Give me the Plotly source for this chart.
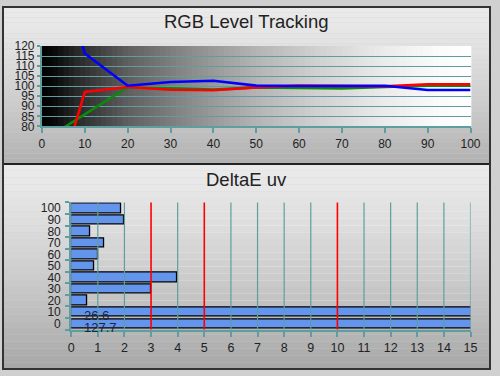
import plotly.graph_objects as go

# ---------------- data ----------------
levels = [0, 10, 20, 30, 40, 50, 60, 70, 80, 90, 100]
red_vals = [26, 97.1, 99.6, 98.2, 98.0, 99.4, 100.3, 100.2, 99.9, 101.0, 101.0]
green_vals = [72.5, 86.0, 99.5, 99.0, 98.3, 99.4, 99.0, 98.9, 99.6, 100.3, 100.3]
blue_vals = [190, 116.3, 100.2, 102.1, 102.7, 100.3, 100.1, 100.1, 100.2, 98.1, 98.1]

de_levels = [0, 10, 20, 30, 40, 50, 60, 70, 80, 90, 100]
de_values = [127.7, 26.6, 0.6, 3.0, 3.97, 0.86, 1.0, 1.25, 0.72, 2.0, 1.88]
thresholds = [3, 5, 10]

top_xticks = list(range(0, 101, 10))
top_yticks = list(range(80, 121, 5))
bot_xticks = list(range(0, 16))
bot_yticks = list(range(0, 101, 10))

TEAL = "#5f9ea0"
FONT = "Liberation Sans, Arial, sans-serif"
TXT = "#222222"

fig = go.Figure()

# RGB lines
for vals, col in [(green_vals, "#0a8a0a"), (red_vals, "#ff0000"), (blue_vals, "#0000ff")]:
    fig.add_trace(go.Scatter(x=levels, y=vals, mode="lines",
                             line=dict(color=col, width=2.6),
                             xaxis="x", yaxis="y", showlegend=False, hoverinfo="skip"))

# DeltaE bars
fig.add_trace(go.Bar(x=de_values, y=de_levels, orientation="h", width=8.2,
                     marker=dict(color="#6495ed", line=dict(color="black", width=1.3)),
                     xaxis="x2", yaxis="y2", showlegend=False, hoverinfo="skip"))

shapes = []
def hex_gray(v):
    v = max(0, min(255, int(round(v))))
    return "#%02x%02x%02x" % (v, v, v)

split_px, H = 163, 376
nb = 30
for i in range(nb):
    y0 = split_px * i / nb
    y1 = split_px * (i + 1) / nb
    g = 234 - (234 - 178) * (i / (nb - 1)) ** 1.3
    shapes.append(dict(type="rect", xref="paper", yref="paper", x0=0, x1=1,
                       y0=1 - y1 / H, y1=1 - y0 / H, fillcolor=hex_gray(g),
                       line=dict(width=0), layer="below"))
for i in range(nb):
    y0 = split_px + (H - split_px) * i / nb
    y1 = split_px + (H - split_px) * (i + 1) / nb
    g = 234 - (234 - 168) * (i / (nb - 1)) ** 1.3
    shapes.append(dict(type="rect", xref="paper", yref="paper", x0=0, x1=1,
                       y0=1 - y1 / H, y1=1 - y0 / H, fillcolor=hex_gray(g),
                       line=dict(width=0), layer="below"))

# top plot-area horizontal gradient (black -> white)
stops = [(0.0, 0), (0.03, 10), (0.08, 40), (0.2, 95), (0.35, 140), (0.5, 180),
         (0.65, 210), (0.8, 235), (0.92, 250), (1.0, 255)]
ng = 80
for i in range(ng):
    f0 = i / ng
    f1 = (i + 1) / ng
    fm = (f0 + f1) / 2
    for (a, va), (b, vb) in zip(stops[:-1], stops[1:]):
        if a <= fm <= b:
            v = va + (vb - va) * (fm - a) / (b - a)
            break
    shapes.append(dict(type="rect", xref="x domain", yref="y domain", x0=f0, x1=f1 + 0.002,
                       y0=0, y1=1, fillcolor=hex_gray(v), line=dict(width=0), layer="below"))

# bottom grid lines above bars
for t in bot_xticks[1:]:
    if t in thresholds:
        continue
    shapes.append(dict(type="line", xref="x2", yref="y2 domain", x0=t, x1=t, y0=0, y1=1,
                       line=dict(color=TEAL, width=1.2), layer="above"))
for t in thresholds:
    shapes.append(dict(type="line", xref="x2", yref="y2 domain", x0=t, x1=t, y0=0, y1=1,
                       line=dict(color="#ff0000", width=1.6), layer="above"))

# separator and border
shapes.append(dict(type="line", xref="paper", yref="paper", x0=0, x1=1,
                   y0=1 - split_px / H, y1=1 - split_px / H,
                   line=dict(color="#222222", width=2), layer="above"))
shapes.append(dict(type="rect", xref="paper", yref="paper", x0=0, x1=1, y0=0, y1=1,
                   line=dict(color="#333333", width=2), layer="above"))

annotations = [
    dict(text="RGB Level Tracking", xref="paper", yref="paper", x=0.5, y=1 - 15 / H,
         showarrow=False, font=dict(family=FONT, size=18.5, color=TXT), xanchor="center", yanchor="middle"),
    dict(text="DeltaE uv", xref="paper", yref="paper", x=0.5, y=1 - 179 / H,
         showarrow=False, font=dict(family=FONT, size=18.5, color=TXT), xanchor="center", yanchor="middle"),
]
XMAX = 15
for lv, v in zip(de_levels, de_values):
    if v > XMAX:
        annotations.append(dict(text=str(v), xref="x2", yref="y2", x=0.4, y=lv - 3,
                                showarrow=False, xanchor="left", yanchor="middle",
                                font=dict(family=FONT, size=13, color="#1c2540")))

fig.update_layout(
    width=500, height=376, autosize=False, margin=dict(l=0, r=0, t=0, b=0),
    paper_bgcolor="#d0d0d0", plot_bgcolor="white",
    shapes=shapes, annotations=annotations, bargap=0,
    xaxis=dict(domain=[40 / 500, 480 / 500], range=[0, 100], tickvals=top_xticks,
               showgrid=False, zeroline=False, showline=True, linecolor=TEAL, linewidth=2,
               ticks="outside", ticklen=5, tickwidth=2, tickcolor=TEAL,
               tickfont=dict(family=FONT, size=12, color=TXT), anchor="y"),
    yaxis=dict(domain=[1 - 124 / H, 1 - 40.5 / H], range=[80, 120], tickvals=top_yticks,
               showgrid=True, gridcolor=TEAL, gridwidth=1.2, zeroline=False,
               showline=True, linecolor=TEAL, linewidth=2,
               ticks="outside", ticklen=3, tickwidth=1.5, tickcolor=TEAL,
               tickfont=dict(family=FONT, size=12, color=TXT), anchor="x"),
    xaxis2=dict(domain=[70 / 500, 480 / 500], range=[0, XMAX], tickvals=bot_xticks,
                showgrid=False, zeroline=False, showline=True, linecolor=TEAL, linewidth=2,
                ticks="outside", ticklen=5, tickwidth=2, tickcolor=TEAL,
                tickfont=dict(family=FONT, size=12.5, color=TXT), anchor="y2"),
    yaxis2=dict(domain=[1 - 335 / H, 1 - 203 / H], range=[-5, 105], tickvals=bot_yticks,
                showgrid=False, zeroline=False, showline=True, linecolor=TEAL, linewidth=2,
                ticks="", ticklabelstandoff=6,
                minor=dict(tick0=5, dtick=10, ticks="outside", ticklen=4, tickwidth=1.5, tickcolor=TEAL),
                tickfont=dict(family=FONT, size=12, color=TXT), anchor="x2"),
)

post = ("document.documentElement.style.margin='0';document.body.style.margin='0';"
        "document.documentElement.style.overflow='hidden';document.body.style.overflow='hidden';")
fig.write_html("out.html", config={"displayModeBar": False, "responsive": False}, post_script=post)
